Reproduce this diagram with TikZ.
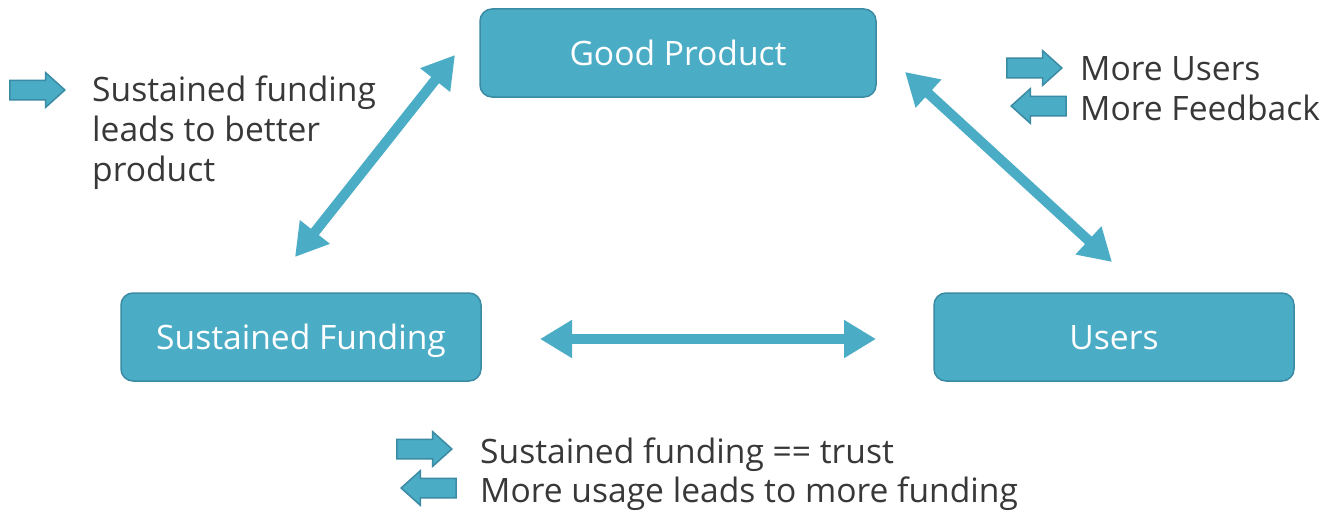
\documentclass[tikz,border=0pt]{standalone}
\usepackage{fontspec}
\setmainfont{Open Sans}
\usepackage{xcolor}
\usetikzlibrary{arrows.meta, shapes.arrows}
\definecolor{boxblue}{HTML}{4BACC6}
\definecolor{boxedge}{HTML}{3A8BA3}
\definecolor{notegray}{HTML}{383838}

\begin{document}
\begin{tikzpicture}[x=1pt, y=-1pt,
    box/.style={draw=boxedge, line width=1.5pt, fill=boxblue, rounded corners=12pt,
        minimum height=88pt, text=white, text height=24pt, text depth=0pt,
        font=\fontsize{33.6}{40}\selectfont},
    link/.style={boxblue, line width=10pt,
        {Triangle[length=32pt, width=36pt]}-{Triangle[length=32pt, width=36pt]}},
    icon/.style={single arrow, draw=boxedge, fill=boxblue, line width=1.5pt,
        minimum height=55pt, inner xsep=0pt, inner ysep=9pt, anchor=tip,
        single arrow head extend=7.5pt, single arrow tip angle=84},
    note/.style={anchor=west, align=left, inner sep=0pt, text=notegray,
        font=\fontsize{33.6}{40}\selectfont}]
        \useasboundingbox (0, 0) rectangle (1324, 511);
        % Boxes
        \node [box, minimum width=396pt] (product) at (678, 53) {Good Product};
        \node [box, minimum width=360pt] (funding) at (301, 337) {Sustained Funding};
        \node [box, minimum width=360pt] (users) at (1114, 337) {Users};
        % Arrow ends
        \coordinate (fundtop) at (295, 257);
        \coordinate (prodleft) at (455, 55);
        \coordinate (prodright) at (905, 72);
        \coordinate (usertop) at (1112, 262);
        \coordinate (fundright) at (540, 339);
        \coordinate (userleft) at (876, 339);
        % Links
        \draw [link] (fundtop) -- (prodleft);
        \draw [link] (prodright) -- (usertop);
        \draw [link] (fundright) -- (userleft);
        % Icons and notes
        \node [icon] (iconfund) at (66, 90) {};
        \node [note] (notefund) at (92, 133) {Sustained funding\\leads to better\\product};
        \node [icon] (iconusers) at (1063, 68) {};
        \node [icon, shape border rotate=180] (iconfeed) at (1010, 106) {};
        \node [note] (noteusers) at (1080, 69) {More Users};
        \node [note] (notefeed) at (1080, 108) {More Feedback};
        \node [icon] (icontrust) at (453, 449) {};
        \node [icon, shape border rotate=180] (iconusage) at (400, 488) {};
        \node [note] (notetrust) at (480, 455) {Sustained funding == trust};
        \node [note] (noteusage) at (480, 494) {More usage leads to more funding};
    \end{tikzpicture}
\end{document}
